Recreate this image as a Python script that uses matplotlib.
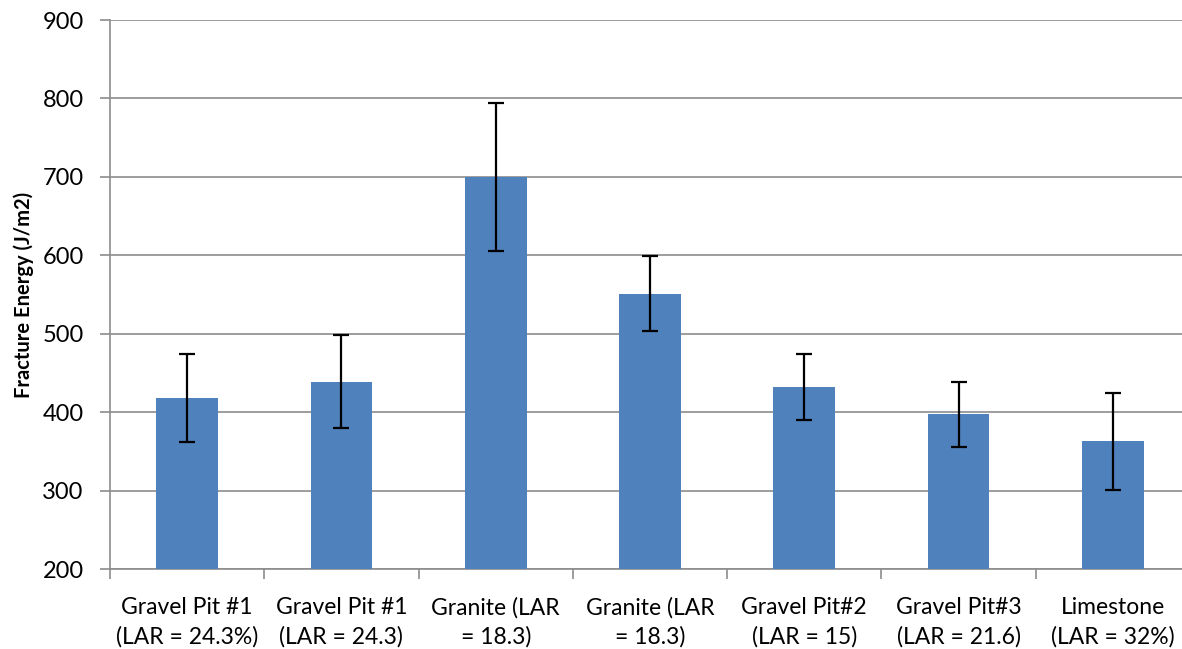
import matplotlib
matplotlib.use("Agg")
import matplotlib.pyplot as plt
import numpy as np

categories = [
    "Gravel Pit #1\n(LAR = 24.3%)",
    "Gravel Pit #1\n(LAR = 24.3)",
    "Granite (LAR\n= 18.3)",
    "Granite (LAR\n= 18.3)",
    "Gravel Pit#2\n(LAR = 15)",
    "Gravel Pit#3\n(LAR = 21.6)",
    "Limestone\n(LAR = 32%)",
]
fracture_energy = [418, 439, 700, 551, 432, 397, 363]
error = [56, 59, 94, 48, 42, 42, 62]

plt.rcParams['font.family'] = ['Lato', 'DejaVu Sans']

fig = plt.figure(figsize=(11.82, 6.49), dpi=100)
W, H = 1182, 649
left, right, top, bottom = 110, 1190, 20, 569
ax = fig.add_axes([left / W, 1 - bottom / H, (right - left) / W, (bottom - top) / H])

x = np.arange(len(categories))
ax.bar(x, np.array(fracture_energy) - 200, bottom=200, width=0.4, color="#4F81BD",
       zorder=3)
ax.errorbar(x, fracture_energy, yerr=error, fmt="none", ecolor="black",
            elinewidth=1.6, capsize=6, capthick=1.6, zorder=4)

ax.set_xlim(-0.5, len(categories) - 0.5)
ax.set_ylim(200, 900)
ax.set_yticks(np.arange(200, 901, 100))
ax.yaxis.grid(True, color="#8C8C8C", linewidth=1.2, zorder=0)
ax.set_axisbelow(True)

ax.set_xticks(x)
ax.set_xticklabels(categories, fontsize=16.5, linespacing=1.45)
ax.set_xticks(np.arange(-0.5, len(categories), 1.0), minor=True)
ax.tick_params(axis="x", which="major", length=0, pad=20)
ax.tick_params(axis="x", which="minor", length=7, width=1.2, color="#8C8C8C")
ax.tick_params(axis="y", labelsize=17, length=7, width=1.2, color="#8C8C8C", pad=12)

for s in ["top", "right"]:
    ax.spines[s].set_visible(False)
for s in ["left", "bottom"]:
    ax.spines[s].set_color("#8C8C8C")
    ax.spines[s].set_linewidth(1.2)

ax.set_ylabel("Fracture Energy (J/m2)", fontsize=14.5, fontweight="bold", labelpad=6)

fig.savefig("out.png", dpi=100)
